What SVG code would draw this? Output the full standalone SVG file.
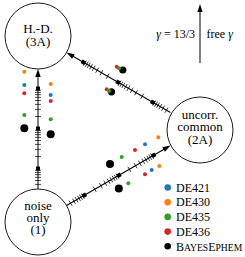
<svg xmlns="http://www.w3.org/2000/svg" xmlns:xlink="http://www.w3.org/1999/xlink" width="245" height="257" viewBox="0 0 245 257">
<style>
.node{fill:#fff;stroke:#000;stroke-width:0.9}
.lbl{font-family:"Liberation Serif",serif;font-size:13px;fill:#000;text-anchor:middle}
.leg{font-family:"Liberation Serif",serif;font-size:12px;fill:#000}
.ax{stroke:#000;stroke-width:1;fill:none}
.tk{stroke:#000;stroke-width:0.7;fill:none}
.b{fill:#1f77b4}.o{fill:#ff7f0e}.g{fill:#2ca02c}.r{fill:#d62728}.k{fill:#000}
</style>
<defs>
<g id="axis">
<path class="ax" d="M0,0H113"/>
<path class="tk" d="M4.6,-3V3M8.5,-3V3M11.6,-3V3M14.3,-3V3M16.6,-3V3M18.7,-3V3M32.5,-3V3M39.6,-3V3M44.6,-3V3M48.5,-3V3M51.6,-3V3M54.3,-3V3M56.6,-3V3M58.7,-3V3M72.5,-3V3M79.6,-3V3M84.6,-3V3M88.5,-3V3M91.6,-3V3M94.3,-3V3M96.6,-3V3M98.7,-3V3"/>
<rect x="18.5" y="-2" width="4" height="4"/>
<rect x="58.5" y="-2" width="4" height="4"/>
<rect x="98.5" y="-2" width="4" height="4"/>
<path d="M120,0L112,-2.7L112,2.7Z"/>
</g>
</defs>
<g id="connectors">
<use xlink:href="#axis" transform="translate(38,189) rotate(-90)"/>
<use xlink:href="#axis" transform="translate(170.4,112.5) rotate(210)"/>
<use xlink:href="#axis" transform="translate(66.6,205.5) rotate(-30)"/>
</g>
<g id="node-hd">
<circle class="node" cx="38" cy="36" r="33"/>
<text class="lbl" x="38" y="33">H.-D.</text>
<text class="lbl" x="38" y="46">(3A)</text>
</g>
<g id="node-noise">
<circle class="node" cx="38" cy="222" r="33"/>
<text class="lbl" x="38" y="210">noise</text>
<text class="lbl" x="38" y="222">only</text>
<text class="lbl" x="38" y="234">(1)</text>
</g>
<g id="node-uncorr">
<circle class="node" cx="200" cy="130" r="33"/>
<text class="lbl" x="200" y="118.5">uncorr.</text>
<text class="lbl" x="200" y="131">common</text>
<text class="lbl" x="200" y="144">(2A)</text>
</g>
<g id="dots">
<circle class="k" cx="24.3" cy="128.3" r="4"/>
<circle class="o" cx="24.3" cy="71.7" r="2"/>
<circle class="b" cx="24.3" cy="85" r="2"/>
<circle class="r" cx="24.3" cy="93.3" r="2"/>
<circle class="g" cx="24.3" cy="115" r="2"/>
<circle class="k" cx="50.7" cy="134.2" r="4"/>
<circle class="o" cx="50.7" cy="84" r="2"/>
<circle class="b" cx="50.7" cy="95" r="2"/>
<circle class="r" cx="50.7" cy="101" r="2"/>
<circle class="g" cx="50.7" cy="119.3" r="2"/>
<circle class="k" cx="122.8" cy="70" r="3.6"/>
<circle class="r" cx="116.7" cy="66.7" r="2"/>
<circle class="g" cx="119" cy="68.3" r="2"/>
<circle class="k" cx="111.5" cy="91.8" r="3.6"/>
<circle class="r" cx="106.7" cy="89.3" r="2"/>
<circle class="g" cx="109" cy="91" r="2"/>
<circle class="k" cx="110" cy="164" r="4"/>
<circle class="g" cx="121.7" cy="157" r="2"/>
<circle class="r" cx="135" cy="150" r="2"/>
<circle class="b" cx="145" cy="144.3" r="2"/>
<circle class="o" cx="158.3" cy="137.3" r="2"/>
<circle class="k" cx="118.8" cy="188.5" r="4"/>
<circle class="g" cx="128.3" cy="183.3" r="2"/>
<circle class="r" cx="145" cy="174.3" r="2"/>
<circle class="b" cx="151.7" cy="170" r="2"/>
<circle class="o" cx="159.3" cy="166" r="2"/>
</g>
<g id="legend">
<circle class="b" cx="167.7" cy="187.5" r="3.3"/>
<text class="leg" x="176" y="191.7">DE421</text>
<circle class="o" cx="167.7" cy="202.2" r="3.3"/>
<text class="leg" x="176" y="206.4">DE430</text>
<circle class="g" cx="167.7" cy="216.9" r="3.3"/>
<text class="leg" x="176" y="221.1">DE435</text>
<circle class="r" cx="167.7" cy="231.6" r="3.3"/>
<text class="leg" x="176" y="235.8">DE436</text>
<circle class="k" cx="167.7" cy="246.3" r="3.3"/>
<text class="leg" x="176" y="250.5">B<tspan font-size="9.6">AYES</tspan>E<tspan font-size="9.6">PHEM</tspan></text>
</g>
<g id="gamma-arrow">
<path class="ax" d="M200,63V11"/>
<path d="M200,4L197.4,12L202.6,12Z"/>
<text class="leg" x="195" y="38" text-anchor="end"><tspan font-style="italic">γ</tspan> = 13/3</text>
<text class="leg" x="206.5" y="38">free <tspan font-style="italic">γ</tspan></text>
</g>
</svg>
